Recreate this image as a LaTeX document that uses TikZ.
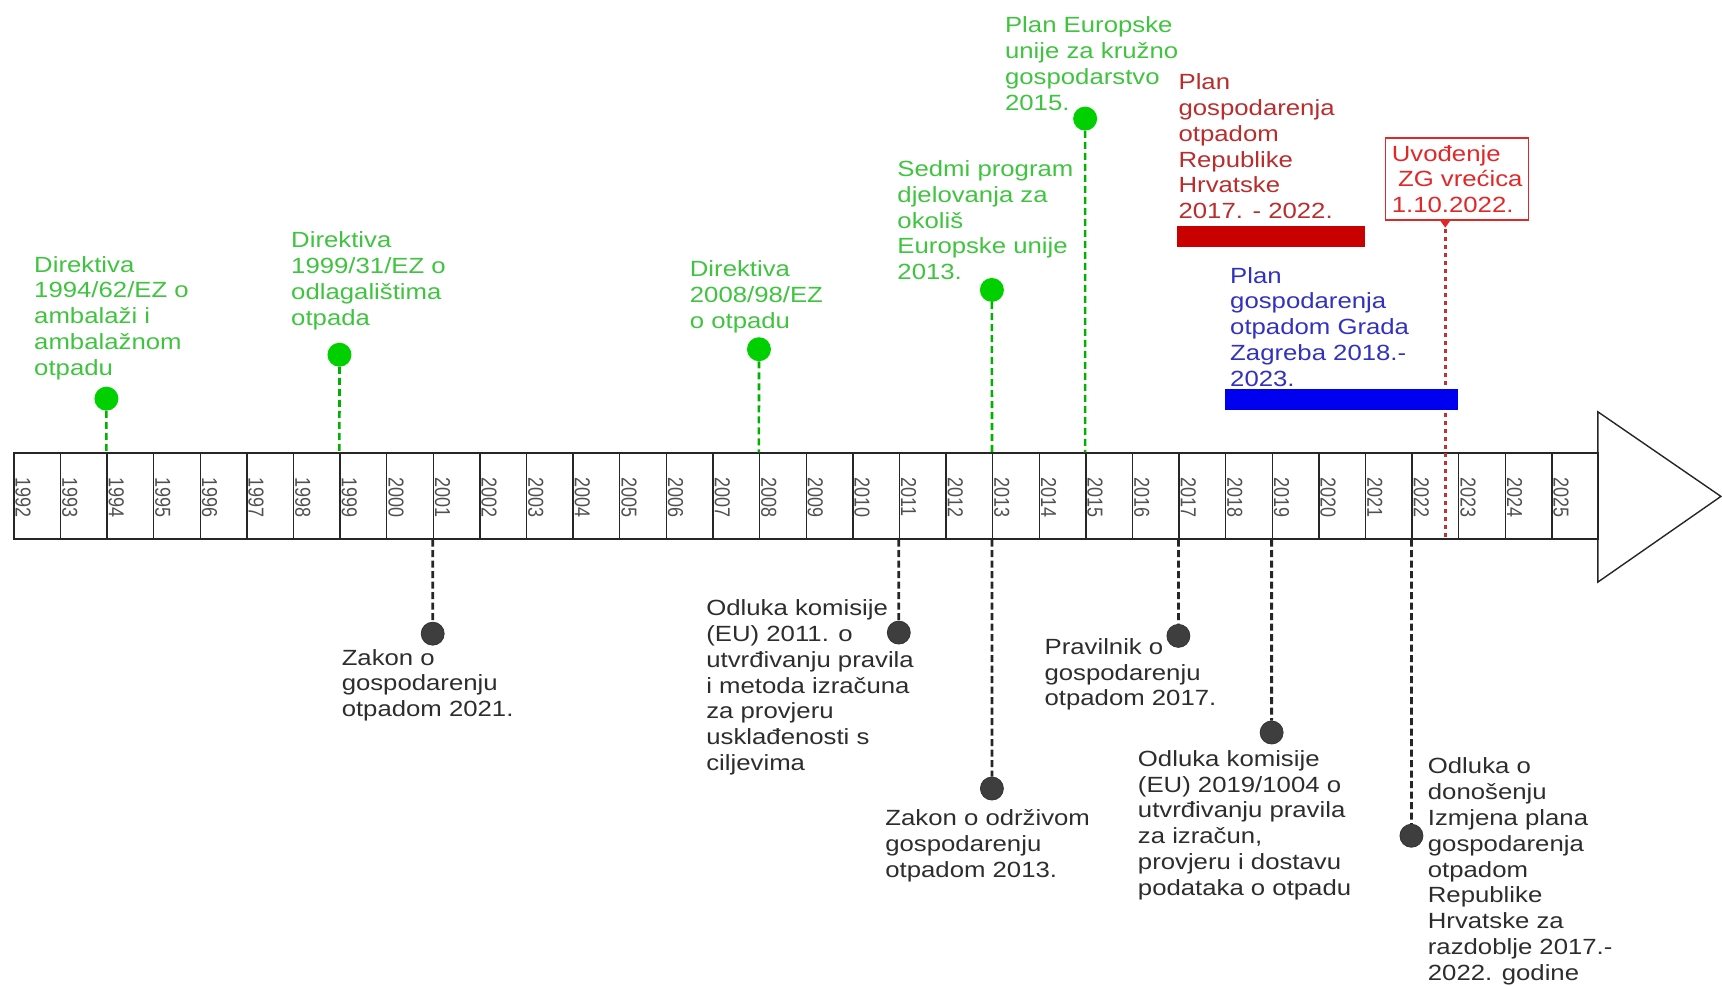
\documentclass[tikz,border=0pt]{standalone}
\usepackage{graphicx}
\usepackage{fontspec}
\setmainfont{Liberation Sans}[FakeStretch=1.17]
\newfontfamily\yearfont{Liberation Sans}
\definecolor{dotgreen}{RGB}{0,208,0}
\definecolor{txtgreen}{RGB}{64,196,64}
\definecolor{dotgray}{RGB}{62,62,62}
\definecolor{txtgray}{RGB}{45,45,45}
\definecolor{yeargray}{RGB}{80,80,80}
\definecolor{plantext}{RGB}{185,45,45}
\definecolor{barred}{RGB}{200,0,0}
\definecolor{zgred}{RGB}{225,40,40}
\definecolor{zgline}{RGB}{190,50,50}
\definecolor{barblue}{RGB}{0,0,240}
\definecolor{plantblue}{RGB}{50,50,190}

\begin{document}
\begin{tikzpicture}[x=1.0982pt,y=-1.0982pt,
    cell/.style={draw=black!85,line width=1.4pt,minimum width=46.61pt,minimum height=85.66pt,anchor=north west,inner sep=0pt},
    yr/.style={rotate=-90,anchor=west,inner sep=0pt,text=yeargray,font=\yearfont\fontsize{18}{20}\selectfont},
    gdot/.style={circle,fill=dotgreen,minimum size=24pt,inner sep=0pt},
    kdot/.style={circle,fill=dotgray,draw=black!80,line width=0.8pt,minimum size=23pt,inner sep=0pt},
    lbl/.style={anchor=north west,align=left,inner sep=0pt,font=\fontsize{22}{25.8}\selectfont},
    gline/.style={dotgreen!85!black,line width=2.6pt,dash pattern=on 7pt off 4pt},
    kline/.style={black!85,line width=2.8pt,dash pattern=on 7pt off 3.5pt},
    rline/.style={zgline,line width=2.6pt,dash pattern=on 4.5pt off 3.5pt}]
    \useasboundingbox (0,0) rectangle (1568,897);
    \foreach \i in {0,...,33}{
      \pgfmathtruncatemacro\yr{1992+\i}
      \node[cell] (y\yr) at ({12+42.44*\i},412) {};
      \node[yr] at ([xshift=9.9pt,yshift=-25.3pt]y\yr.north west) {\scalebox{1}[1.2]{\yr}};
    }
    \draw[black!85,line width=1.4pt] (1455,375) -- (1567,452) -- (1455,530) -- cycle;

    \node[gdot] (g1994) at (96.9,363) {};
    \draw[gline] (g1994) -- (y1994.north west);
    \node[lbl,text=txtgreen] (t1994) at (31,233) {Direktiva\\1994/62/EZ o\\ambalaži i\\ambalažnom\\otpadu};
    \node[gdot] (g1999) at (309.1,323) {};
    \draw[gline] (g1999) -- (y1999.north west);
    \node[lbl,text=txtgreen] (t1999) at (265,211) {Direktiva\\1999/31/EZ o\\odlagalištima\\otpada};
    \node[gdot] (g2008) at (691.1,318) {};
    \draw[gline] (g2008) -- (y2008.north west);
    \node[lbl,text=txtgreen] (t2008) at (628,237) {Direktiva\\2008/98/EZ\\o otpadu};
    \node[gdot] (g2013) at (903.2,264) {};
    \draw[gline] (g2013) -- (y2013.north west);
    \node[lbl,text=txtgreen] (t2013) at (817,146) {Sedmi program\\djelovanja za\\okoliš\\Europske unije\\2013.};
    \node[gdot] (g2015) at (988.1,108) {};
    \draw[gline] (g2015) -- (y2015.north west);
    \node[lbl,text=txtgreen] (t2015) at (915,15) {Plan Europske\\unije za kružno\\gospodarstvo\\2015.};

    \node[kdot] (k2001) at (394,577) {};
    \draw[kline] (y2001.south west) -- (k2001);
    \node[lbl,text=txtgray] (s2001) at (311,591) {Zakon o\\gospodarenju\\otpadom 2021.};
    \node[kdot] (k2011) at (818.4,576) {};
    \draw[kline] (y2011.south west) -- (k2011);
    \node[lbl,text=txtgray] (s2011) at (643,546) {Odluka komisije\\(EU) 2011. o\\utvrđivanju pravila\\i metoda izračuna\\za provjeru\\usklađenosti s\\ciljevima};
    \node[kdot] (k2013) at (903.2,718) {};
    \draw[kline] (y2013.south west) -- (k2013);
    \node[lbl,text=txtgray] (s2013) at (806,737) {Zakon o održivom\\gospodarenju\\otpadom 2013.};
    \node[kdot] (k2017) at (1073,579) {};
    \draw[kline] (y2017.south west) -- (k2017);
    \node[lbl,text=txtgray] (s2017) at (951,581) {Pravilnik o\\gospodarenju\\otpadom 2017.};
    \node[kdot] (k2019) at (1157.9,667) {};
    \draw[kline] (y2019.south west) -- (k2019);
    \node[lbl,text=txtgray] (s2019) at (1036,683) {Odluka komisije\\(EU) 2019/1004 o\\utvrđivanju pravila\\za izračun,\\provjeru i dostavu\\podataka o otpadu};
    \node[kdot] (k2022) at (1285.2,761) {};
    \draw[kline] (y2022.south west) -- (k2022);
    \node[lbl,text=txtgray] (s2022) at (1300,690) {Odluka o\\donošenju\\Izmjena plana\\gospodarenja\\otpadom\\Republike\\Hrvatske za\\razdoblje 2017.-\\2022. godine};

    \node[lbl,text=plantext] (phr) at (1073,67) {Plan\\gospodarenja\\otpadom\\Republike\\Hrvatske\\2017. - 2022.};
    \fill[barred] (1072,206) rectangle (1243,225);

    \node[lbl,draw=zgred,line width=1.6pt,text=zgred,inner xsep=2pt,inner ysep=7pt,minimum width=143pt,minimum height=81pt] (zg) at (1261,125) {Uvođenje\\\hspace*{0.28em}ZG vrećica\\1.10.2022.};
    \coordinate (zg2022) at (1316,490);
    \coordinate (zgtip) at (zg.south -| zg2022);
    \draw[rline] (zgtip) -- (zg2022);
    \fill[zgred] ([xshift=-5pt]zgtip) -- ([xshift=5pt]zgtip) -- ([yshift=-7pt]zgtip) -- cycle;

    \node[lbl,text=plantblue] (pzg) at (1120,243) {Plan\\gospodarenja\\otpadom Grada\\Zagreba 2018.-\\2023.};
    \fill[barblue] (1115,354) rectangle (1328,373);
\end{tikzpicture}
\end{document}
